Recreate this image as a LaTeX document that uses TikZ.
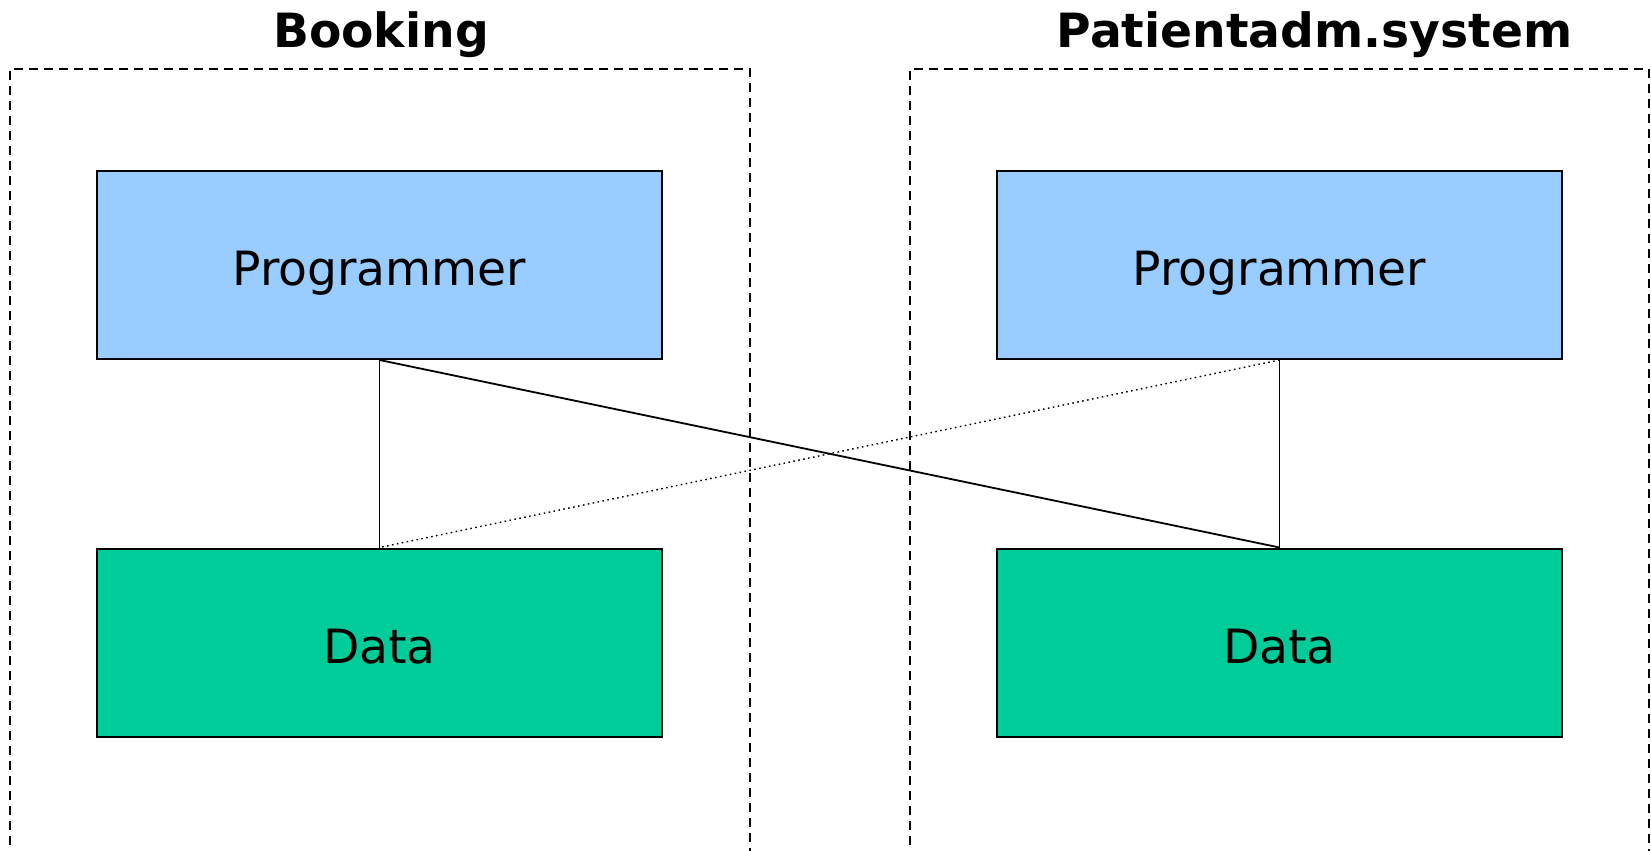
\documentclass[tikz,border=0pt]{standalone}
\usepackage{fontspec}
\setmainfont{DejaVu Sans}
\usepackage{tikz}
\usetikzlibrary{calc}
\definecolor{progblue}{HTML}{99CCFF}
\definecolor{datagreen}{HTML}{00CC99}
\tikzset{
    unitbox/.style={draw, line width=1pt, minimum width=282.5pt, minimum height=94pt,
        inner sep=0pt, text height=20.7pt, text depth=0pt, font=\fontsize{23.6}{28}\selectfont},
    progbox/.style={unitbox, fill=progblue},
    databox/.style={unitbox, fill=datagreen},
    systitle/.style={anchor=base, inner sep=0pt, font=\fontsize{23.6}{28}\selectfont\bfseries},
    sysframe/.style={line width=0.9pt, dash pattern=on 4.5pt off 3pt},
    link/.style={line width=0.9pt},
    weaklink/.style={line width=0.7pt, dash pattern=on 0.8pt off 1.7pt}
}

\begin{document}
\begin{tikzpicture}[x=0.5pt, y=-0.5pt]
        \useasboundingbox (0, 0) rectangle (1651, 851);
        \draw[sysframe] (10, 860) -- (10, 69) -- (750, 69) -- (750, 860);
        \draw[sysframe] (910, 860) -- (910, 69) -- (1649, 69) -- (1649, 860);
        \node[systitle] (booktitle) at (381, 47) {Booking};
        \node[systitle] (pattitle) at (1314.5, 47) {Patientadm.system};
        \node[progbox] (bookprog) at (379.5, 265) {Programmer};
        \node[databox] (bookdata) at (379.5, 642.5) {Data};
        \node[progbox] (patprog) at (1279.5, 265) {Programmer};
        \node[databox] (patdata) at (1279.5, 642.5) {Data};
        \draw[link] (bookprog.south) -- (bookdata.north);
        \draw[link] (patprog.south) -- (patdata.north);
        \draw[link] (bookprog.south) -- (patdata.north);
        \draw[weaklink] (patprog.south) -- (bookdata.north);
    \end{tikzpicture}
\end{document}
